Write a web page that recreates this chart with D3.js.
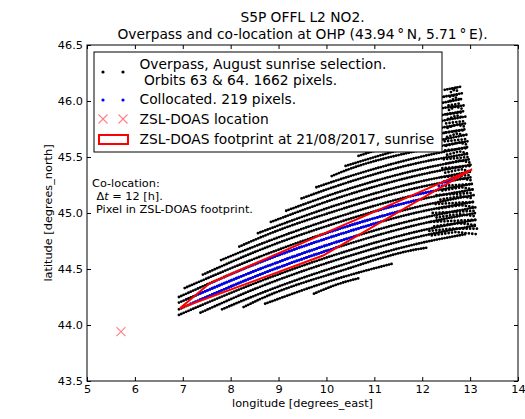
<!doctype html>
<html lang="en">
<head>
<meta charset="utf-8">
<title>S5P OFFL L2 NO2 - overpass at OHP</title>
<style>
  body { margin: 0; background: #fff; }
  svg text { font-family: "DejaVu Sans", sans-serif; fill: #000; }
</style>
</head>
<body>
<div id="chart"></div>
<script src="https://cdnjs.cloudflare.com/ajax/libs/d3/7.8.5/d3.min.js"></script>
<script>
// ticks
var xTicks = [5, 6, 7, 8, 9, 10, 11, 12, 13, 14];
var yTicks = [43.5, 44.0, 44.5, 45.0, 45.5, 46.0, 46.5];

// ZSL-DOAS station and its footprint (lon, lat)
var ohpLocation = [5.71, 43.94];
var footprint = [[6.94, 44.15], [7.57, 44.375], [13.04, 45.39], [9.93, 44.62]];

// scan rows of the overpass, each row is a list of [lon, lat]
var swathRows = [
  [[9.74, 44.28], [10.28, 44.37], [10.70, 44.42]],
  [[8.72, 44.19], [10.28, 44.42], [11.40, 44.55]],
  [[8.27, 44.16], [8.61, 44.23], [10.28, 44.48], [11.95, 44.68], [12.10, 44.69]],
  [[7.82, 44.14], [8.61, 44.28], [10.28, 44.53], [11.95, 44.73], [12.90, 44.81]],
  [[7.37, 44.11], [8.61, 44.34], [10.28, 44.59], [11.95, 44.79], [13.15, 44.89]],
  [[6.92, 44.09], [8.61, 44.39], [10.28, 44.64], [11.95, 44.84], [13.14, 44.94]],
  [[6.92, 44.14], [8.61, 44.45], [10.28, 44.70], [11.95, 44.90], [13.12, 45.00]],
  [[6.92, 44.20], [8.61, 44.50], [10.28, 44.75], [11.95, 44.95], [13.11, 45.05]],
  [[6.92, 44.25], [8.61, 44.56], [10.28, 44.81], [11.95, 45.01], [13.10, 45.10]],
  [[7.04, 44.33], [8.61, 44.61], [10.28, 44.86], [11.95, 45.06], [13.08, 45.16]],
  [[7.42, 44.45], [8.61, 44.67], [10.28, 44.92], [11.95, 45.12], [13.07, 45.21]],
  [[7.80, 44.58], [8.61, 44.72], [10.28, 44.97], [11.95, 45.17], [13.05, 45.26]],
  [[8.18, 44.70], [8.61, 44.78], [10.28, 45.03], [11.95, 45.23], [13.04, 45.32]],
  [[8.57, 44.82], [10.28, 45.08], [11.95, 45.28], [13.03, 45.37]],
  [[8.84, 44.92], [10.28, 45.14], [11.95, 45.34], [13.01, 45.43]],
  [[9.16, 45.02], [10.28, 45.19], [11.95, 45.39], [13.00, 45.48]],
  [[9.48, 45.13], [10.28, 45.25], [11.95, 45.45], [12.98, 45.53]],
  [[9.79, 45.23], [10.28, 45.30], [11.95, 45.50], [12.97, 45.59]],
  [[10.11, 45.33], [10.28, 45.36], [11.95, 45.56], [12.95, 45.64]],
  [[10.40, 45.42], [11.95, 45.61], [12.94, 45.70]],
  [[10.67, 45.51], [11.95, 45.67], [12.93, 45.75]],
  [[10.94, 45.60], [11.95, 45.72], [12.91, 45.80]],
  [[11.21, 45.69], [11.95, 45.78], [12.90, 45.86]],
  [[11.48, 45.77], [11.95, 45.83], [12.88, 45.91]],
  [[11.75, 45.86], [11.95, 45.89], [12.87, 45.96]],
  [[12.01, 45.95], [12.86, 46.02]],
  [[12.24, 46.02], [12.84, 46.07]],
  [[12.47, 46.10], [12.83, 46.13]]
];

// short rows at the swath edge of the other orbit (the ragged column near 12.5-13 E)
var edgeRows = [
  [[12.20, 44.80], [12.70, 44.83], [13.15, 44.81]],
  [[12.15, 44.84], [12.62, 44.86], [13.16, 44.86]],
  [[12.25, 44.88], [12.74, 44.91], [13.15, 44.89]],
  [[12.18, 44.92], [12.66, 44.93], [13.14, 44.94]],
  [[12.30, 44.96], [12.78, 44.99], [13.13, 44.97]],
  [[12.22, 45.00], [12.68, 45.01], [13.12, 45.02]],
  [[12.35, 45.04], [12.80, 45.07], [13.11, 45.05]],
  [[12.28, 45.08], [12.70, 45.09], [13.10, 45.10]],
  [[12.38, 45.12], [12.80, 45.15], [13.08, 45.13]],
  [[12.30, 45.16], [12.72, 45.17], [13.07, 45.18]],
  [[12.42, 45.20], [12.82, 45.23], [13.06, 45.21]],
  [[12.35, 45.24], [12.74, 45.25], [13.05, 45.26]],
  [[12.45, 45.28], [12.82, 45.31], [13.04, 45.29]],
  [[12.40, 45.32], [12.75, 45.33], [13.02, 45.34]],
  [[12.48, 45.36], [12.82, 45.39], [13.01, 45.37]],
  [[12.42, 45.40], [12.76, 45.41], [13.00, 45.42]],
  [[12.50, 45.44], [12.80, 45.47], [12.99, 45.45]],
  [[12.45, 45.48], [12.74, 45.49], [12.97, 45.50]],
  [[12.52, 45.52], [12.78, 45.55], [12.96, 45.53]],
  [[12.48, 45.56], [12.72, 45.57], [12.95, 45.58]],
  [[12.50, 45.60], [12.76, 45.63], [12.94, 45.61]],
  [[12.47, 45.64], [12.70, 45.65], [12.93, 45.66]],
  [[12.52, 45.68], [12.74, 45.71], [12.91, 45.69]],
  [[12.49, 45.72], [12.70, 45.73], [12.90, 45.74]],
  [[12.53, 45.76], [12.72, 45.79], [12.89, 45.77]],
  [[12.50, 45.80], [12.68, 45.81], [12.88, 45.82]],
  [[12.54, 45.84], [12.72, 45.87], [12.87, 45.85]],
  [[12.52, 45.88], [12.68, 45.89], [12.85, 45.90]],
  [[12.56, 45.92], [12.70, 45.95], [12.84, 45.93]],
  [[12.55, 45.96], [12.68, 45.97], [12.82, 45.98]],
  [[12.58, 46.00], [12.70, 46.03], [12.80, 46.01]],
  [[12.58, 46.04], [12.68, 46.05], [12.78, 46.06]],
  [[12.60, 46.08], [12.67, 46.10], [12.74, 46.09]],
  [[12.63, 46.11], [12.72, 46.12]]
];

var titleLines = ["S5P OFFL L2 NO2.", "Overpass and co-location at OHP (43.94\u2009\u00b0\u2009N, 5.71\u2009\u00b0\u2009E)."];
var legendLabels = [
  ["Overpass, August sunrise selection.", " Orbits 63 & 64. 1662 pixels."],
  ["Collocated. 219 pixels."],
  ["ZSL-DOAS location"],
  ["ZSL-DOAS footprint at 21/08/2017, sunrise"]
];
var noteLines = ["Co-location:", "= 12 [h].", "Pixel in ZSL-DOAS footprint."];

var W = 525, H = 419;
var margin = {top: 45, right: 7, bottom: 38, left: 87};
var plotW = W - margin.left - margin.right,
    plotH = H - margin.top - margin.bottom;

var x = d3.scaleLinear().domain([5, 14]).range([margin.left, margin.left + plotW]);
var y = d3.scaleLinear().domain([43.5, 46.5]).range([margin.top + plotH, margin.top]);

var svg = d3.select("#chart").append("svg")
  .attr("width", W)
  .attr("height", H);

var defs = svg.append("defs");
defs.append("clipPath").attr("id", "plotClip")
  .append("rect")
  .attr("x", margin.left).attr("y", margin.top)
  .attr("width", plotW).attr("height", plotH);

var rowLine = d3.line().x(function(d) { return x(d[0]); }).y(function(d) { return y(d[1]); });
var rowCurve = d3.line().x(function(d) { return x(d[0]); }).y(function(d) { return y(d[1]); })
  .curve(d3.curveMonotoneX);
var footLine = d3.line().x(function(d) { return x(d[0]); }).y(function(d) { return y(d[1]); })
  .curve(d3.curveLinearClosed);

// pixels inside the footprint get coloured blue
defs.append("clipPath").attr("id", "footClip")
  .append("path")
  .attr("d", footLine(footprint));

// title
svg.selectAll(".title").data(titleLines).enter().append("text")
  .attr("class", "title")
  .attr("x", x(9.5))
  .attr("y", function(d, i) { return 22 + i * 17; })
  .attr("text-anchor", "middle")
  .attr("font-size", 13.8)
  .text(function(d) { return d; });

var plot = svg.append("g").attr("clip-path", "url(#plotClip)");

function drawRows(g, color) {
  g.selectAll(".swath").data(swathRows).enter().append("path")
    .attr("class", "swath")
    .attr("d", rowCurve)
    .attr("fill", "none")
    .attr("stroke", color)
    .attr("stroke-width", 2.8)
    .attr("stroke-linecap", "round")
    .attr("stroke-dasharray", "0 2.6");
  g.selectAll(".edge").data(edgeRows).enter().append("path")
    .attr("class", "edge")
    .attr("d", rowLine)
    .attr("fill", "none")
    .attr("stroke", color)
    .attr("stroke-width", 2.8)
    .attr("stroke-linecap", "round")
    .attr("stroke-dasharray", "0 3.4");
}

// all overpass pixels
drawRows(plot.append("g"), "#000");
// collocated pixels
drawRows(plot.append("g").attr("clip-path", "url(#footClip)"), "#0000ff");

// footprint
plot.append("path")
  .attr("d", footLine(footprint))
  .attr("fill", "none")
  .attr("stroke", "#ff0000")
  .attr("stroke-width", 2);

// station marker
function cross(g, cx, cy, s) {
  g.append("path")
    .attr("d", "M" + (cx - s) + "," + (cy - s) + "L" + (cx + s) + "," + (cy + s) +
               "M" + (cx - s) + "," + (cy + s) + "L" + (cx + s) + "," + (cy - s))
    .attr("stroke", "#ff8080")
    .attr("stroke-width", 1.1)
    .attr("fill", "none");
}
cross(plot, x(ohpLocation[0]), y(ohpLocation[1]), 4.5);

// axes, ticks pointing in on all four sides
var fmtY = d3.format(".1f");
svg.append("g")
  .attr("transform", "translate(0," + (margin.top + plotH) + ")")
  .call(d3.axisBottom(x).tickValues(xTicks).tickSizeInner(-4).tickSizeOuter(0).tickPadding(4));
svg.append("g")
  .attr("transform", "translate(" + margin.left + ",0)")
  .call(d3.axisLeft(y).tickValues(yTicks).tickFormat(fmtY).tickSizeInner(-4).tickSizeOuter(0).tickPadding(4));
svg.append("g")
  .attr("transform", "translate(0," + margin.top + ")")
  .call(d3.axisTop(x).tickValues(xTicks).tickSizeInner(-4).tickSizeOuter(0).tickFormat(""));
svg.append("g")
  .attr("transform", "translate(" + (margin.left + plotW) + ",0)")
  .call(d3.axisRight(y).tickValues(yTicks).tickSizeInner(-4).tickSizeOuter(0).tickFormat(""));
svg.selectAll(".domain").remove();
svg.selectAll(".tick line").attr("stroke", "#000");
svg.selectAll(".tick text")
  .attr("font-family", "DejaVu Sans, sans-serif")
  .attr("font-size", 11.3)
  .attr("fill", "#000");

// frame
svg.append("rect")
  .attr("x", margin.left).attr("y", margin.top)
  .attr("width", plotW).attr("height", plotH)
  .attr("fill", "none")
  .attr("stroke", "#000")
  .attr("stroke-width", 1);

// axis labels
svg.append("text")
  .attr("x", x(9.5)).attr("y", 407)
  .attr("text-anchor", "middle")
  .attr("font-size", 11.3)
  .text("longitude [degrees_east]");
svg.append("text")
  .attr("transform", "translate(52," + y(45) + ") rotate(-90)")
  .attr("text-anchor", "middle")
  .attr("font-size", 11.3)
  .text("latitude [degrees_north]");

// legend
var legend = svg.append("g");
legend.append("rect")
  .attr("x", 94).attr("y", 52)
  .attr("width", 348).attr("height", 100)
  .attr("fill", "#fff")
  .attr("stroke", "#000")
  .attr("stroke-width", 1);

var markX = [103, 123];
markX.forEach(function(mx) {
  legend.append("circle").attr("cx", mx).attr("cy", 72).attr("r", 1.6).attr("fill", "#000");
  legend.append("circle").attr("cx", mx).attr("cy", 100).attr("r", 1.6).attr("fill", "#0000ff");
  cross(legend, mx, 119, 4.5);
});
legend.append("rect")
  .attr("x", 99).attr("y", 135)
  .attr("width", 29).attr("height", 9)
  .attr("fill", "#fff")
  .attr("stroke", "#ff0000")
  .attr("stroke-width", 2);

var legendY = [[69, 84.5], [104], [124], [144]];
legendLabels.forEach(function(lines, i) {
  lines.forEach(function(t, j) {
    legend.append("text")
      .attr("x", 139.5)
      .attr("y", legendY[i][j])
      .attr("font-size", 13.8)
      .style("white-space", "pre")
      .text(t);
  });
});

// co-location note
var note = svg.append("g").attr("font-size", 11.3);
note.append("text").attr("x", 92).attr("y", 187).text(noteLines[0]);
var dt = note.append("text").attr("x", 96.5).attr("y", 200);
dt.append("tspan").text("\u0394");
dt.append("tspan").attr("font-style", "italic").text("t");
dt.append("tspan").text(" " + noteLines[1]);
note.append("text").attr("x", 96).attr("y", 212.5).text(noteLines[2]);
</script>
</body>
</html>
